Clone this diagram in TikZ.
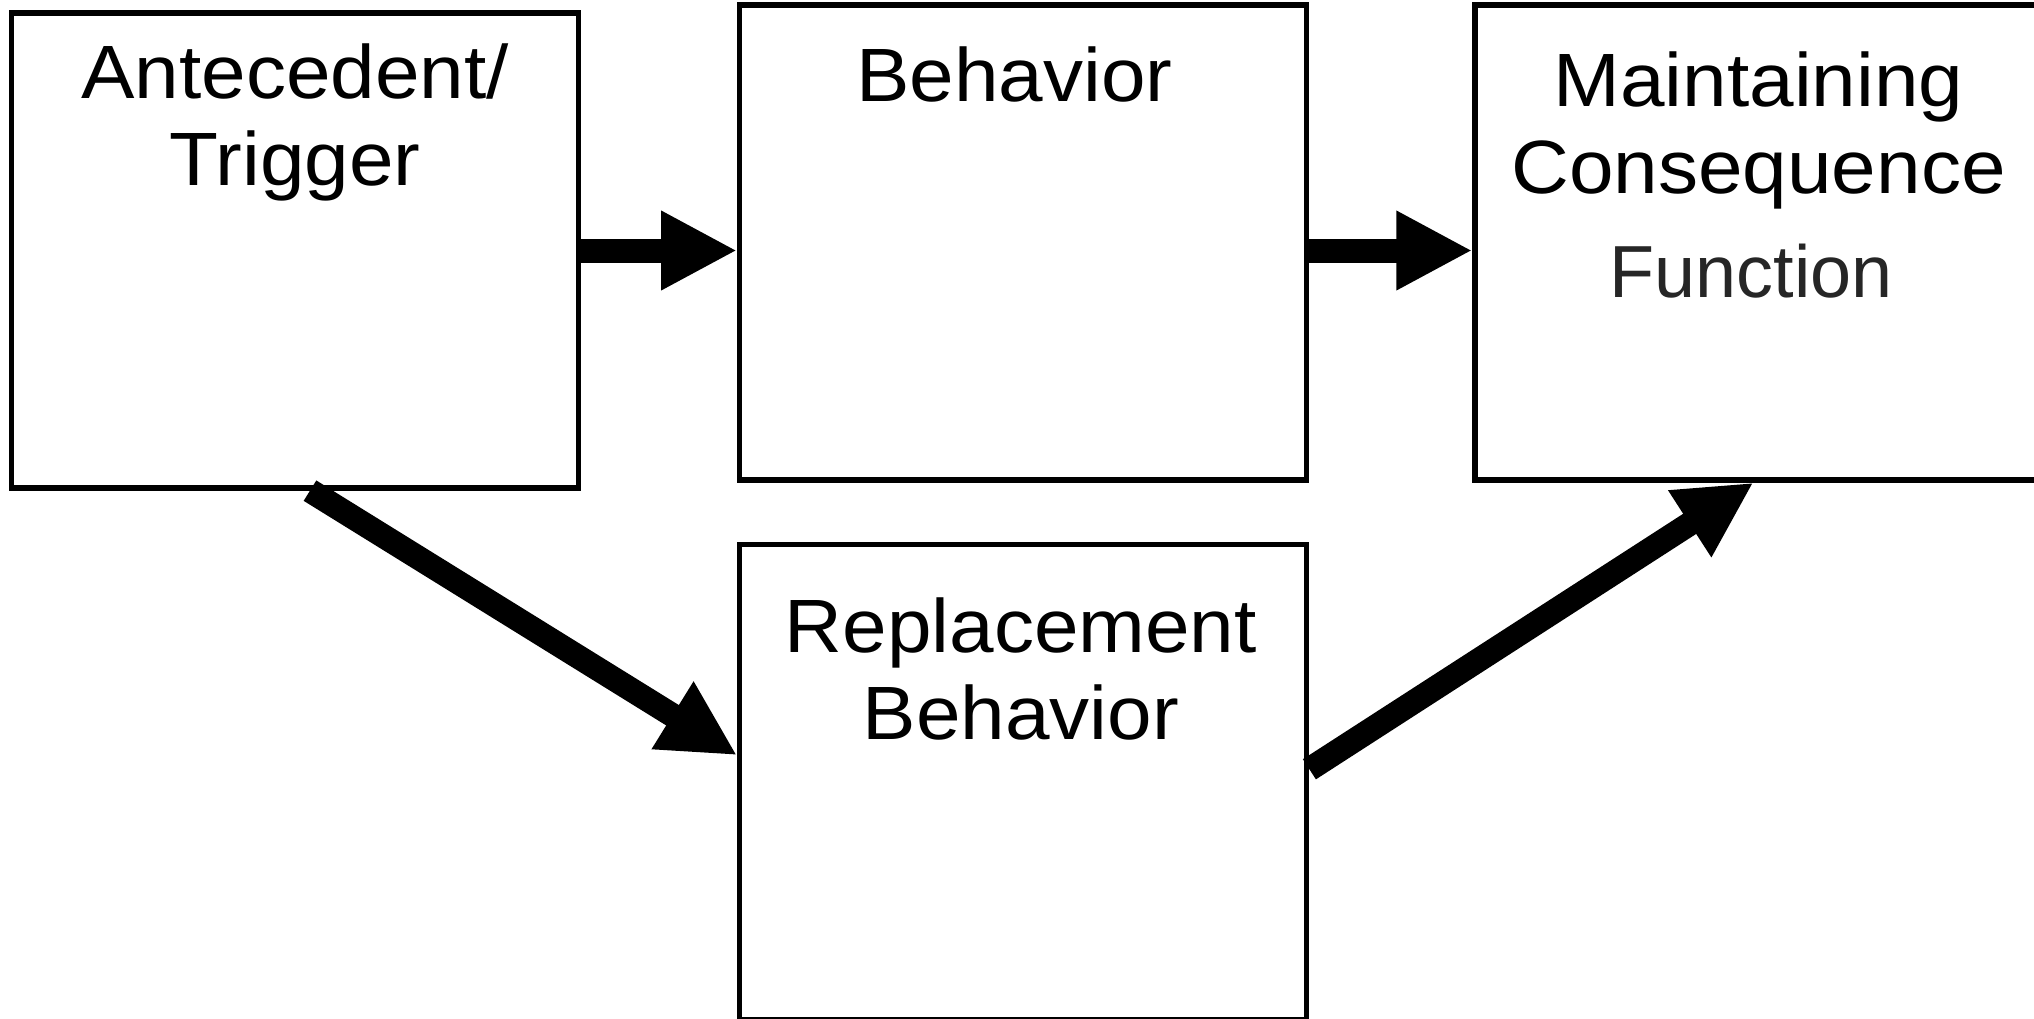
\documentclass[tikz,border=0pt]{standalone}
\usepackage{fontspec}
\setmainfont{Liberation Sans}[FakeStretch=1.06]
\newfontfamily\fnfont{Liberation Sans}
\usepackage{tikz}
\usetikzlibrary{positioning, arrows.meta}
\tikzstyle{block} = [rectangle, minimum width=5.67cm, minimum height=4.75cm, draw=black, line width=1.5pt, fill=white]
\tikzstyle{boxtext} = [align=center, anchor=base, inner sep=0pt, font=\fontsize{21.5}{24.8}\selectfont]
\tikzstyle{thickarrow} = [-{Triangle[length=7.6mm,width=7.4mm]}, line width=2.4mm]
\begin{document}
\begin{tikzpicture}
	\clip (0,0) rectangle (20.34,-10.19);
	% boxes
	\node (ANT) [block] at (2.95,-2.505) {};
	\node (BEH) [block, right=1.56cm of ANT, yshift=0.08cm] {};
	\node (MC) [block, right=1.63cm of BEH] {};
	\node (RB) [block, below=0.595cm of BEH] {};
	% texts
	\node (ANTT) [boxtext] at ([yshift=-1.75cm]ANT.north) {Antecedent/\\Trigger};
	\node (BEHT) [boxtext] at ([xshift=-0.09cm,yshift=-0.99cm]BEH.north) {Behavior};
	\node (MCT) [boxtext] at ([yshift=-1.91cm]MC.north) {Maintaining\\Consequence};
	\node (FN) [boxtext, font=\fnfont\fontsize{21}{24}\selectfont, text=black!85] at ([xshift=-0.075cm,yshift=-2.95cm]MC.north) {Function};
	\node (RBT) [boxtext] at ([xshift=-0.025cm,yshift=-1.975cm]RB.north) {Replacement\\Behavior};
	% arrows
	\draw [thickarrow] (ANT.east) -- (ANT.east -| BEH.west);
	\draw [thickarrow] (BEH.east |- ANT.east) -- (MC.west |- ANT.east);
	\draw [thickarrow] ([xshift=0.15cm]ANT.south) -- ([yshift=0.27cm]RB.west);
	\draw [thickarrow] ([yshift=0.13cm]RB.east) -- ([xshift=-0.05cm]MC.south);
\end{tikzpicture}
\end{document}
